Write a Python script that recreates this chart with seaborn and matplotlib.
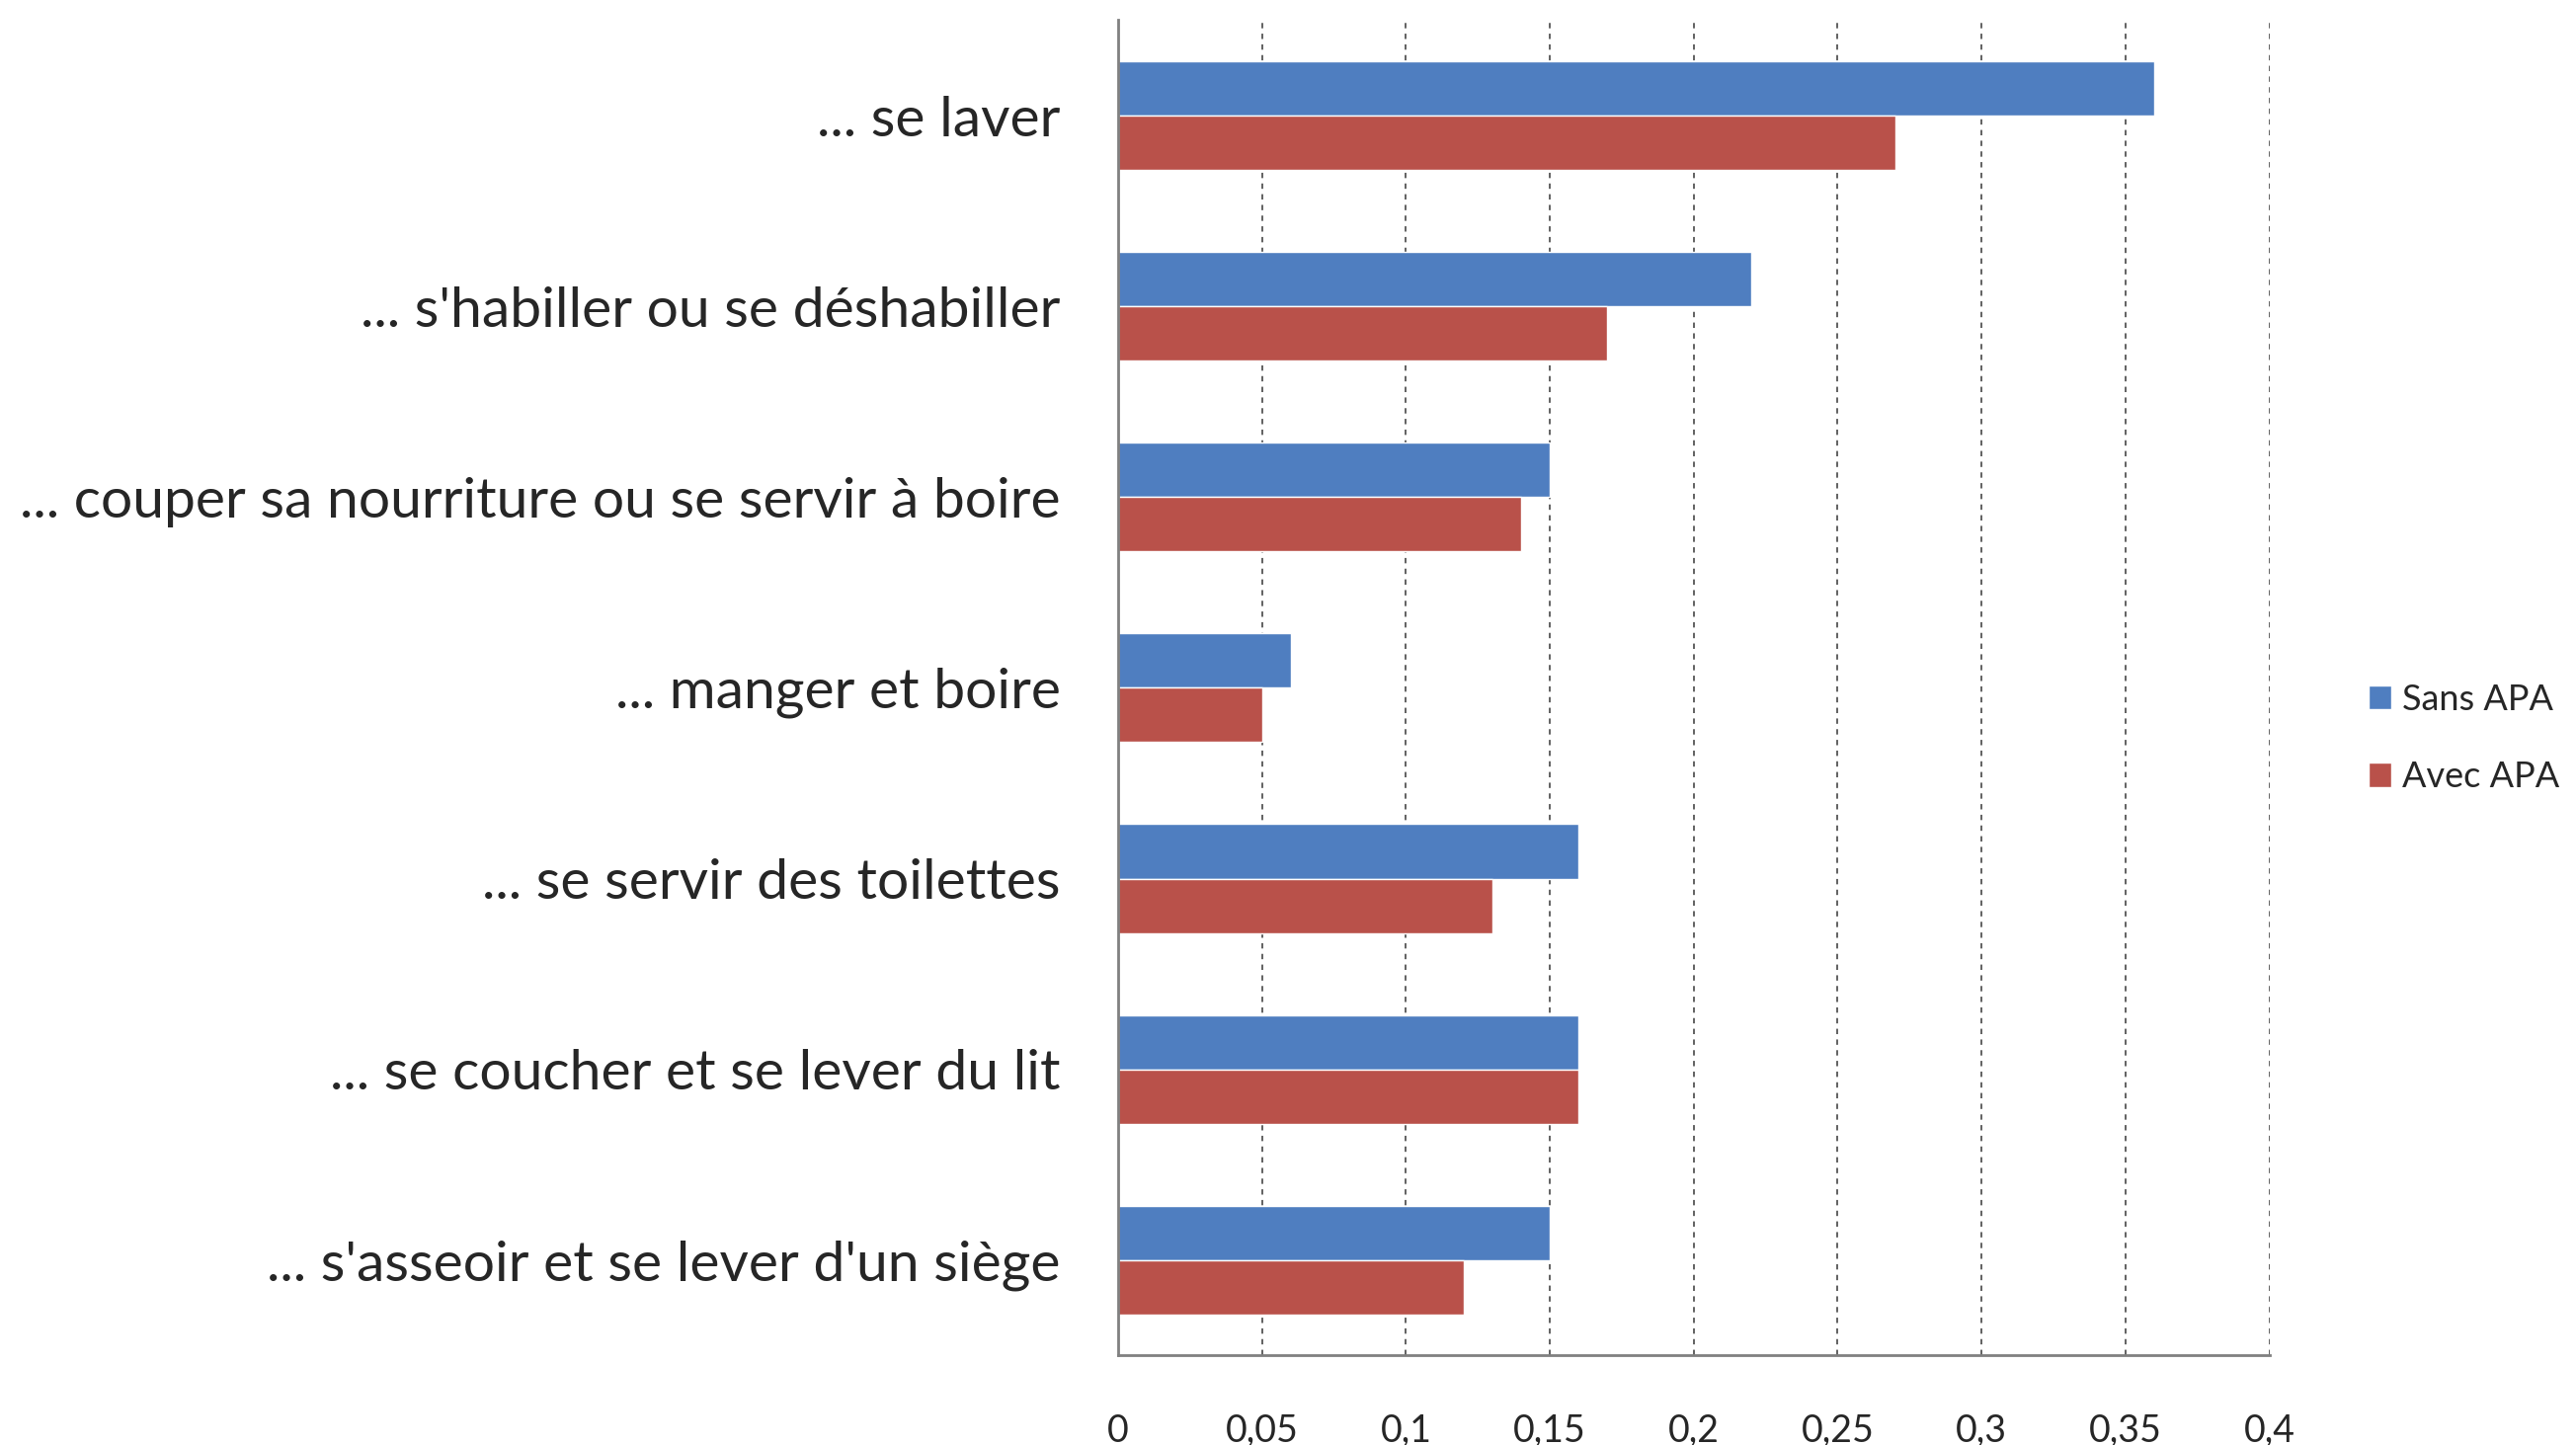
import numpy as np
import pandas as pd
import matplotlib
matplotlib.use("Agg")
import matplotlib.pyplot as plt
import seaborn as sns
from matplotlib.patches import Patch

# chart data
categories = [
    "... se laver",
    "... s'habiller ou se déshabiller",
    "... couper sa nourriture ou se servir à boire",
    "... manger et boire",
    "... se servir des toilettes",
    "... se coucher et se lever du lit",
    "... s'asseoir et se lever d'un siège",
]
sans_apa = [0.36, 0.22, 0.15, 0.06, 0.16, 0.16, 0.15]
avec_apa = [0.27, 0.17, 0.14, 0.05, 0.13, 0.16, 0.12]
series = ["Sans APA", "Avec APA"]
xticks = [0, 0.05, 0.1, 0.15, 0.2, 0.25, 0.3, 0.35, 0.4]
xtick_labels = ["0", "0,05", "0,1", "0,15", "0,2", "0,25", "0,3", "0,35", "0,4"]

colors = {"Sans APA": "#4F7EC0", "Avec APA": "#B9514A"}

df = pd.DataFrame({
    "activite": categories * 2,
    "valeur": sans_apa + avec_apa,
    "serie": [series[0]] * len(categories) + [series[1]] * len(categories),
})

sns.set_style("white")
plt.rcParams["font.family"] = ["Lato", "DejaVu Sans"]

fig = plt.figure(figsize=(26.08, 14.63), dpi=100)
ax = fig.add_axes([0.434, 0.062, 0.447, 0.924])

sns.barplot(data=df, y="activite", x="valeur", hue="serie", order=categories,
            hue_order=series, palette=colors, orient="h", width=0.57,
            saturation=1, legend=False, ax=ax)

ax.set_xlim(0, 0.4)
ax.set_ylim(len(categories) - 0.5, -0.5)

# vertical dashed gridlines
for x in xticks[1:]:
    ax.axvline(x, color="#555555", lw=1.3, ls=(0, (3, 3)), zorder=0)

ax.set_xticks(xticks)
ax.set_xticklabels(xtick_labels, fontsize=27)
ax.tick_params(axis="x", direction="out", length=12, width=1.5, color="#808080", pad=30)

# y ticks at category boundaries, labels at centres
ax.set_yticks(np.arange(-0.5, len(categories) + 0.5, 1))
ax.set_yticklabels([])
ax.set_yticks(np.arange(len(categories)), minor=True)
ax.set_yticklabels(categories, minor=True, fontsize=41)
ax.tick_params(axis="y", which="major", direction="out", length=14, width=1.5, color="#808080")
ax.tick_params(axis="y", which="minor", length=0, pad=42)

for side in ["top", "right"]:
    ax.spines[side].set_visible(False)
for side in ["left", "bottom"]:
    ax.spines[side].set_color("#808080")
    ax.spines[side].set_linewidth(2)

ax.set_xlabel("")
ax.set_ylabel("")

handles = [Patch(facecolor=colors[s], label=s) for s in series]
fig.legend(handles=handles, loc="center left", bbox_to_anchor=(0.907, 0.489),
           frameon=False, fontsize=26, handlelength=0.65, handleheight=0.65,
           handletextpad=0.3, labelspacing=1.25)

fig.savefig("out.png", dpi=100)
